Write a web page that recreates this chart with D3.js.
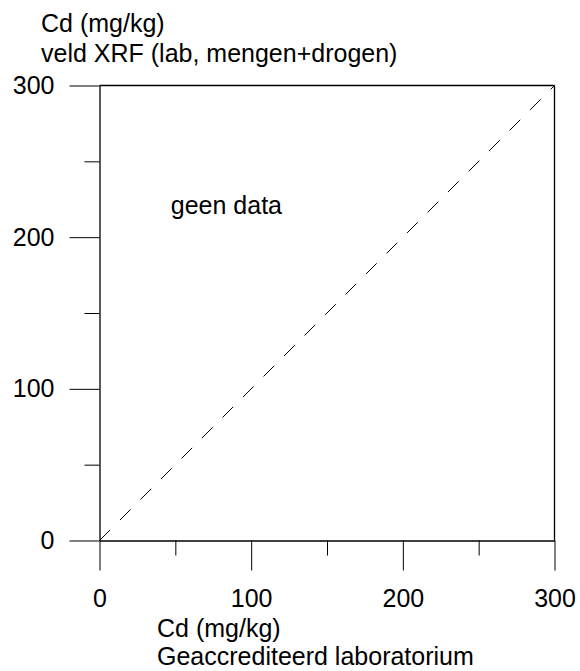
<!DOCTYPE html>
<html>
<head>
<meta charset="utf-8">
<script src="https://cdn.jsdelivr.net/npm/d3@7"></script>
<style>
  body { margin: 0; background: #fff; }
  svg text { font-family: "Liberation Sans", Arial, sans-serif; font-size: 25px; fill: #000; }
</style>
</head>
<body>
<div id="chart"></div>
<script>
// axis ranges and ticks (mg/kg)
const domain = [0, 300];
const majorTicks = [0, 100, 200, 300];
const minorTicks = [50, 150, 250];
// 1:1 reference line
const refLine = [[0, 0], [300, 300]];
const yTitle = ['Cd (mg/kg)', 'veld XRF (lab, mengen+drogen)'];
const xTitle = ['Cd (mg/kg)', 'Geaccrediteerd laboratorium'];
const note = 'geen data';

const svgWidth = 580;
const svgHeight = 671;

const svg = d3.select('#chart')
    .append('svg')
    .attr('width', svgWidth)
    .attr('height', svgHeight);

// plot box
const x = d3.scaleLinear().domain(domain).range([99.5, 554.5]);
const y = d3.scaleLinear().domain(domain).range([540.5, 85.5]);

// top and right frame
svg.append('line')
    .attr('x1', x(0)).attr('x2', x(300))
    .attr('y1', y(300)).attr('y2', y(300))
    .attr('stroke', '#000').attr('stroke-width', 1.3);
svg.append('line')
    .attr('x1', x(300)).attr('x2', x(300))
    .attr('y1', y(300)).attr('y2', y(0))
    .attr('stroke', '#000').attr('stroke-width', 1.3);

// minor ticks
svg.append('g')
    .attr('transform', `translate(0,${y(0)})`)
    .call(d3.axisBottom(x).tickValues(minorTicks).tickSize(15).tickSizeOuter(0).tickFormat(''))
    .call(g => g.select('.domain').remove());
svg.append('g')
    .attr('transform', `translate(${x(0)},0)`)
    .call(d3.axisLeft(y).tickValues(minorTicks).tickSize(15).tickSizeOuter(0).tickFormat(''))
    .call(g => g.select('.domain').remove());

// major axes
const xAxis = svg.append('g')
    .attr('transform', `translate(0,${y(0)})`)
    .call(d3.axisBottom(x).tickValues(majorTicks).tickSize(30).tickSizeOuter(0).tickPadding(19).tickFormat(d3.format('d')));
const yAxis = svg.append('g')
    .attr('transform', `translate(${x(0)},0)`)
    .call(d3.axisLeft(y).tickValues(majorTicks).tickSize(30).tickSizeOuter(0).tickPadding(15).tickFormat(d3.format('d')));

[xAxis, yAxis].forEach(g => {
    g.attr('font-size', null).attr('font-family', null);
    g.select('.domain').attr('stroke', '#000').attr('stroke-width', 1.3);
    g.selectAll('.tick line').attr('stroke', '#000');
    g.selectAll('.tick text').attr('fill', '#000');
});
svg.selectAll('.tick line').attr('stroke', '#000');

// dashed 1:1 line
svg.append('path')
    .datum(refLine)
    .attr('d', d3.line().x(d => x(d[0])).y(d => y(d[1])))
    .attr('fill', 'none')
    .attr('stroke', '#000')
    .attr('stroke-width', 1)
    .attr('stroke-dasharray', '15,14');

// no data note
svg.append('text')
    .attr('x', x(47))
    .attr('y', y(215))
    .text(note);

// titles
svg.append('g').selectAll('text')
    .data(yTitle)
    .enter()
    .append('text')
    .attr('x', 41)
    .attr('y', (d, i) => 32 + i * 30)
    .text(d => d);

svg.append('g').selectAll('text')
    .data(xTitle)
    .enter()
    .append('text')
    .attr('x', 157)
    .attr('y', (d, i) => 637 + i * 28)
    .text(d => d);
</script>
</body>
</html>
